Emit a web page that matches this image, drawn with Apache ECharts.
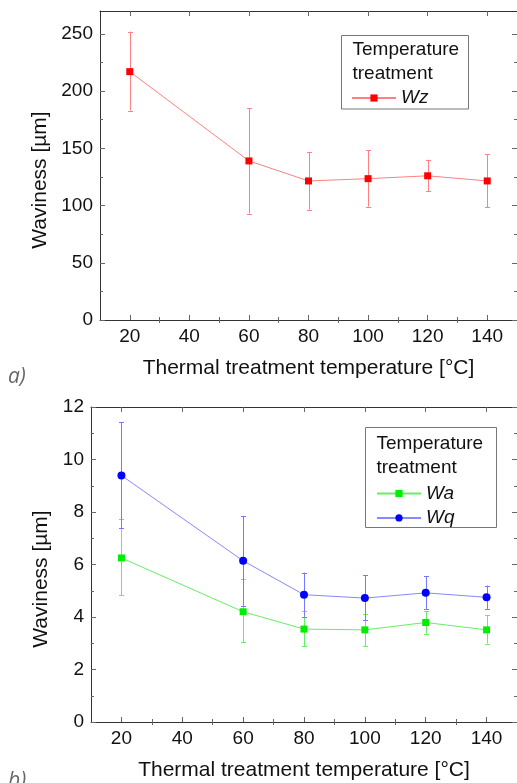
<!DOCTYPE html>
<html><head><meta charset="utf-8">
<script src="https://cdn.jsdelivr.net/npm/echarts@6/dist/echarts.min.js"></script>
<style>html,body{margin:0;padding:0;background:#fff}#c{width:517px;height:783px}</style>
</head><body><div id="c"></div>
<script>
// ---- data ----
const temps = [20, 60, 80, 100, 120, 140];
const wz = [217, 139, 121.5, 123.5, 126, 121.5];
const wzHigh = [252, 185, 146.5, 148.5, 140, 145];
const wzLow = [183, 93, 96.5, 99, 112.5, 98.5];
const wa = [6.25, 4.2, 3.54, 3.51, 3.79, 3.51];
const waHigh = [7.72, 5.43, 4.21, 4.13, 4.21, 4.06];
const waLow = [4.82, 3.03, 2.88, 2.88, 3.37, 2.99];
const wq = [9.39, 6.14, 4.85, 4.72, 4.92, 4.75];
const wqHigh = [11.42, 7.84, 5.69, 5.59, 5.55, 5.20];
const wqLow = [7.38, 4.43, 4.01, 3.87, 4.31, 4.31];
const xTicks = [20, 40, 60, 80, 100, 120, 140];
const xMinorTicks = [30, 50, 70, 90, 110, 130];
const yTicksA = [0, 50, 100, 150, 200, 250];
const yMinorA = [25, 75, 125, 175, 225];
const yTicksB = [0, 2, 4, 6, 8, 10, 12];
const yMinorB = [1, 3, 5, 7, 9, 11];
const xName = 'Thermal treatment temperature [°C]';
const yName = 'Waviness [µm]';
const legendTitle = ['Temperature', 'treatment'];

// ---- styling ----
const FONT = '"Liberation Sans", Arial, sans-serif';
const FRAME = '#333';
const TICK = '#666';

const gridA = {left: 100, top: 11, right: -3, bottom: 463};
const gridB = {left: 91, top: 407, right: -1, bottom: 61};

function mainX(gi, pos, withLabel) {
  return {
    type: 'value', gridIndex: gi, position: pos, min: 10, max: 150,
    axisLine: {show: true, onZero: false, lineStyle: {color: FRAME, width: 1}},
    axisTick: {show: true, inside: true, length: 5, customValues: xTicks, lineStyle: {color: TICK}},
    axisLabel: withLabel ? {show: true, customValues: xTicks, fontSize: 19, color: '#111', fontFamily: FONT, margin: 7} : {show: false},
    splitLine: {show: false},
    name: withLabel ? xName : '', nameLocation: 'middle', nameGap: 38,
    nameTextStyle: {fontSize: 21, color: '#111', fontFamily: FONT}
  };
}
function minorX(gi, pos) {
  return {
    type: 'value', gridIndex: gi, position: pos, min: 10, max: 150,
    axisLine: {show: false},
    axisTick: {show: true, inside: true, length: 3, customValues: xMinorTicks, lineStyle: {color: TICK}},
    axisLabel: {show: false}, splitLine: {show: false}
  };
}
function mainY(gi, pos, max, ticks, withLabel, gap) {
  return {
    type: 'value', gridIndex: gi, position: pos, min: 0, max: max,
    axisLine: {show: true, onZero: false, lineStyle: {color: FRAME, width: 1}},
    axisTick: {show: true, inside: true, length: 5, customValues: ticks, lineStyle: {color: TICK}},
    axisLabel: withLabel ? {show: true, customValues: ticks, fontSize: 19, color: '#111', fontFamily: FONT, margin: 7} : {show: false},
    splitLine: {show: false},
    name: withLabel ? yName : '', nameLocation: 'middle', nameGap: gap, nameRotate: 90,
    nameTextStyle: {fontSize: 21, color: '#111', fontFamily: FONT, padding: [0, 29, 0, 0]}
  };
}
function minorY(gi, pos, max, ticks) {
  return {
    type: 'value', gridIndex: gi, position: pos, min: 0, max: max,
    axisLine: {show: false},
    axisTick: {show: true, inside: true, length: 3, customValues: ticks, lineStyle: {color: TICK}},
    axisLabel: {show: false}, splitLine: {show: false}
  };
}

function errRender(color) {
  return function (params, api) {
    const x = api.value(0), lo = api.value(1), hi = api.value(2);
    const pLo = api.coord([x, lo]);
    const pHi = api.coord([x, hi]);
    const cx = Math.round(pLo[0]) + 0.5;
    const hw = 2.5;
    const style = {stroke: color, lineWidth: 1, fill: null};
    return {type: 'group', children: [
      {type: 'line', shape: {x1: cx, y1: pLo[1], x2: cx, y2: pHi[1]}, style: style},
      {type: 'line', shape: {x1: cx - hw, y1: Math.round(pLo[1]) + 0.5, x2: cx + hw, y2: Math.round(pLo[1]) + 0.5}, style: style},
      {type: 'line', shape: {x1: cx - hw, y1: Math.round(pHi[1]) + 0.5, x2: cx + hw, y2: Math.round(pHi[1]) + 0.5}, style: style}
    ]};
  };
}
function errSeries(name, xi, yi, low, high, color) {
  return {
    type: 'custom', name: name, xAxisIndex: xi, yAxisIndex: yi, z: 2, silent: true,
    renderItem: errRender(color), encode: {x: 0, y: [1, 2]},
    data: temps.map((t, i) => [t, low[i], high[i]])
  };
}
function lineSeries(name, xi, yi, vals, symbol, size, mColor, lColor) {
  return {
    type: 'line', name: name, xAxisIndex: xi, yAxisIndex: yi, z: 3,
    data: temps.map((t, i) => [t, vals[i]]),
    symbol: symbol, symbolSize: size, showSymbol: true,
    itemStyle: {color: mColor},
    lineStyle: {color: lColor, width: 1},
    animation: false
  };
}

const legendText = {fontSize: 19, fontStyle: 'italic', color: '#111', fontFamily: FONT};

const option = {
  animation: false,
  backgroundColor: '#fff',
  grid: [
    Object.assign({}, gridA), Object.assign({}, gridA),
    Object.assign({}, gridB), Object.assign({}, gridB)
  ],
  xAxis: [
    mainX(0, 'bottom', true), mainX(0, 'top', false),
    minorX(1, 'bottom'), minorX(1, 'top'),
    mainX(2, 'bottom', true), mainX(2, 'top', false),
    minorX(3, 'bottom'), minorX(3, 'top')
  ],
  yAxis: [
    mainY(0, 'left', 270, yTicksA, true, 48), mainY(0, 'right', 270, yTicksA, false, 0),
    minorY(1, 'left', 270, yMinorA), minorY(1, 'right', 270, yMinorA),
    mainY(2, 'left', 12, yTicksB, true, 39), mainY(2, 'right', 12, yTicksB, false, 0),
    minorY(3, 'left', 12, yMinorB), minorY(3, 'right', 12, yMinorB)
  ],
  legend: [
    {data: ['Wz'], orient: 'vertical', left: 351, top: 88.5, itemWidth: 44, itemHeight: 9,
     padding: 0, itemGap: 5, textStyle: legendText, selectedMode: false},
    {data: ['Wa', 'Wq'], orient: 'vertical', left: 376, top: 484, itemWidth: 44, itemHeight: 9,
     padding: 0, itemGap: 5.4, textStyle: legendText, selectedMode: false}
  ],
  graphic: [
    {type: 'rect', shape: {x: 341.5, y: 35.5, width: 127, height: 73.5}, style: {fill: 'none', stroke: '#777', lineWidth: 1}, z: 10},
    {type: 'text', x: 352.5, y: 50, style: {text: legendTitle[0], font: '19px ' + FONT, fill: '#111', verticalAlign: 'middle'}, z: 10},
    {type: 'text', x: 352.5, y: 74, style: {text: legendTitle[1], font: '19px ' + FONT, fill: '#111', verticalAlign: 'middle'}, z: 10},
    {type: 'rect', shape: {x: 365.5, y: 427.5, width: 131, height: 100}, style: {fill: 'none', stroke: '#777', lineWidth: 1}, z: 10},
    {type: 'text', x: 376.5, y: 444, style: {text: legendTitle[0], font: '19px ' + FONT, fill: '#111', verticalAlign: 'middle'}, z: 10},
    {type: 'text', x: 376.5, y: 468, style: {text: legendTitle[1], font: '19px ' + FONT, fill: '#111', verticalAlign: 'middle'}, z: 10},
    {type: 'text', x: 8, y: 377, style: {text: 'a)', font: 'italic 21px "Open Sans", sans-serif', fill: '#666', verticalAlign: 'middle'}, z: 10},
    {type: 'text', x: 8, y: 781, style: {text: 'b)', font: 'italic 21px "Open Sans", sans-serif', fill: '#666', verticalAlign: 'middle'}, z: 10}
  ],
  series: [
    errSeries('WzErr', 0, 0, wzLow, wzHigh, '#ff8080'),
    lineSeries('Wz', 0, 0, wz, 'rect', 7, '#ff0000', '#ff8080'),
    errSeries('WaErr', 4, 4, waLow, waHigh, '#66ee66'),
    errSeries('WqErr', 4, 4, wqLow, wqHigh, '#7777ff'),
    lineSeries('Wa', 4, 4, wa, 'rect', 7, '#00ee00', '#66ee66'),
    lineSeries('Wq', 4, 4, wq, 'circle', 8, '#0000ff', '#8888ff')
  ]
};

const chart = echarts.init(document.getElementById('c'), null, {renderer: 'canvas'});
chart.setOption(option);
</script>
</body></html>
